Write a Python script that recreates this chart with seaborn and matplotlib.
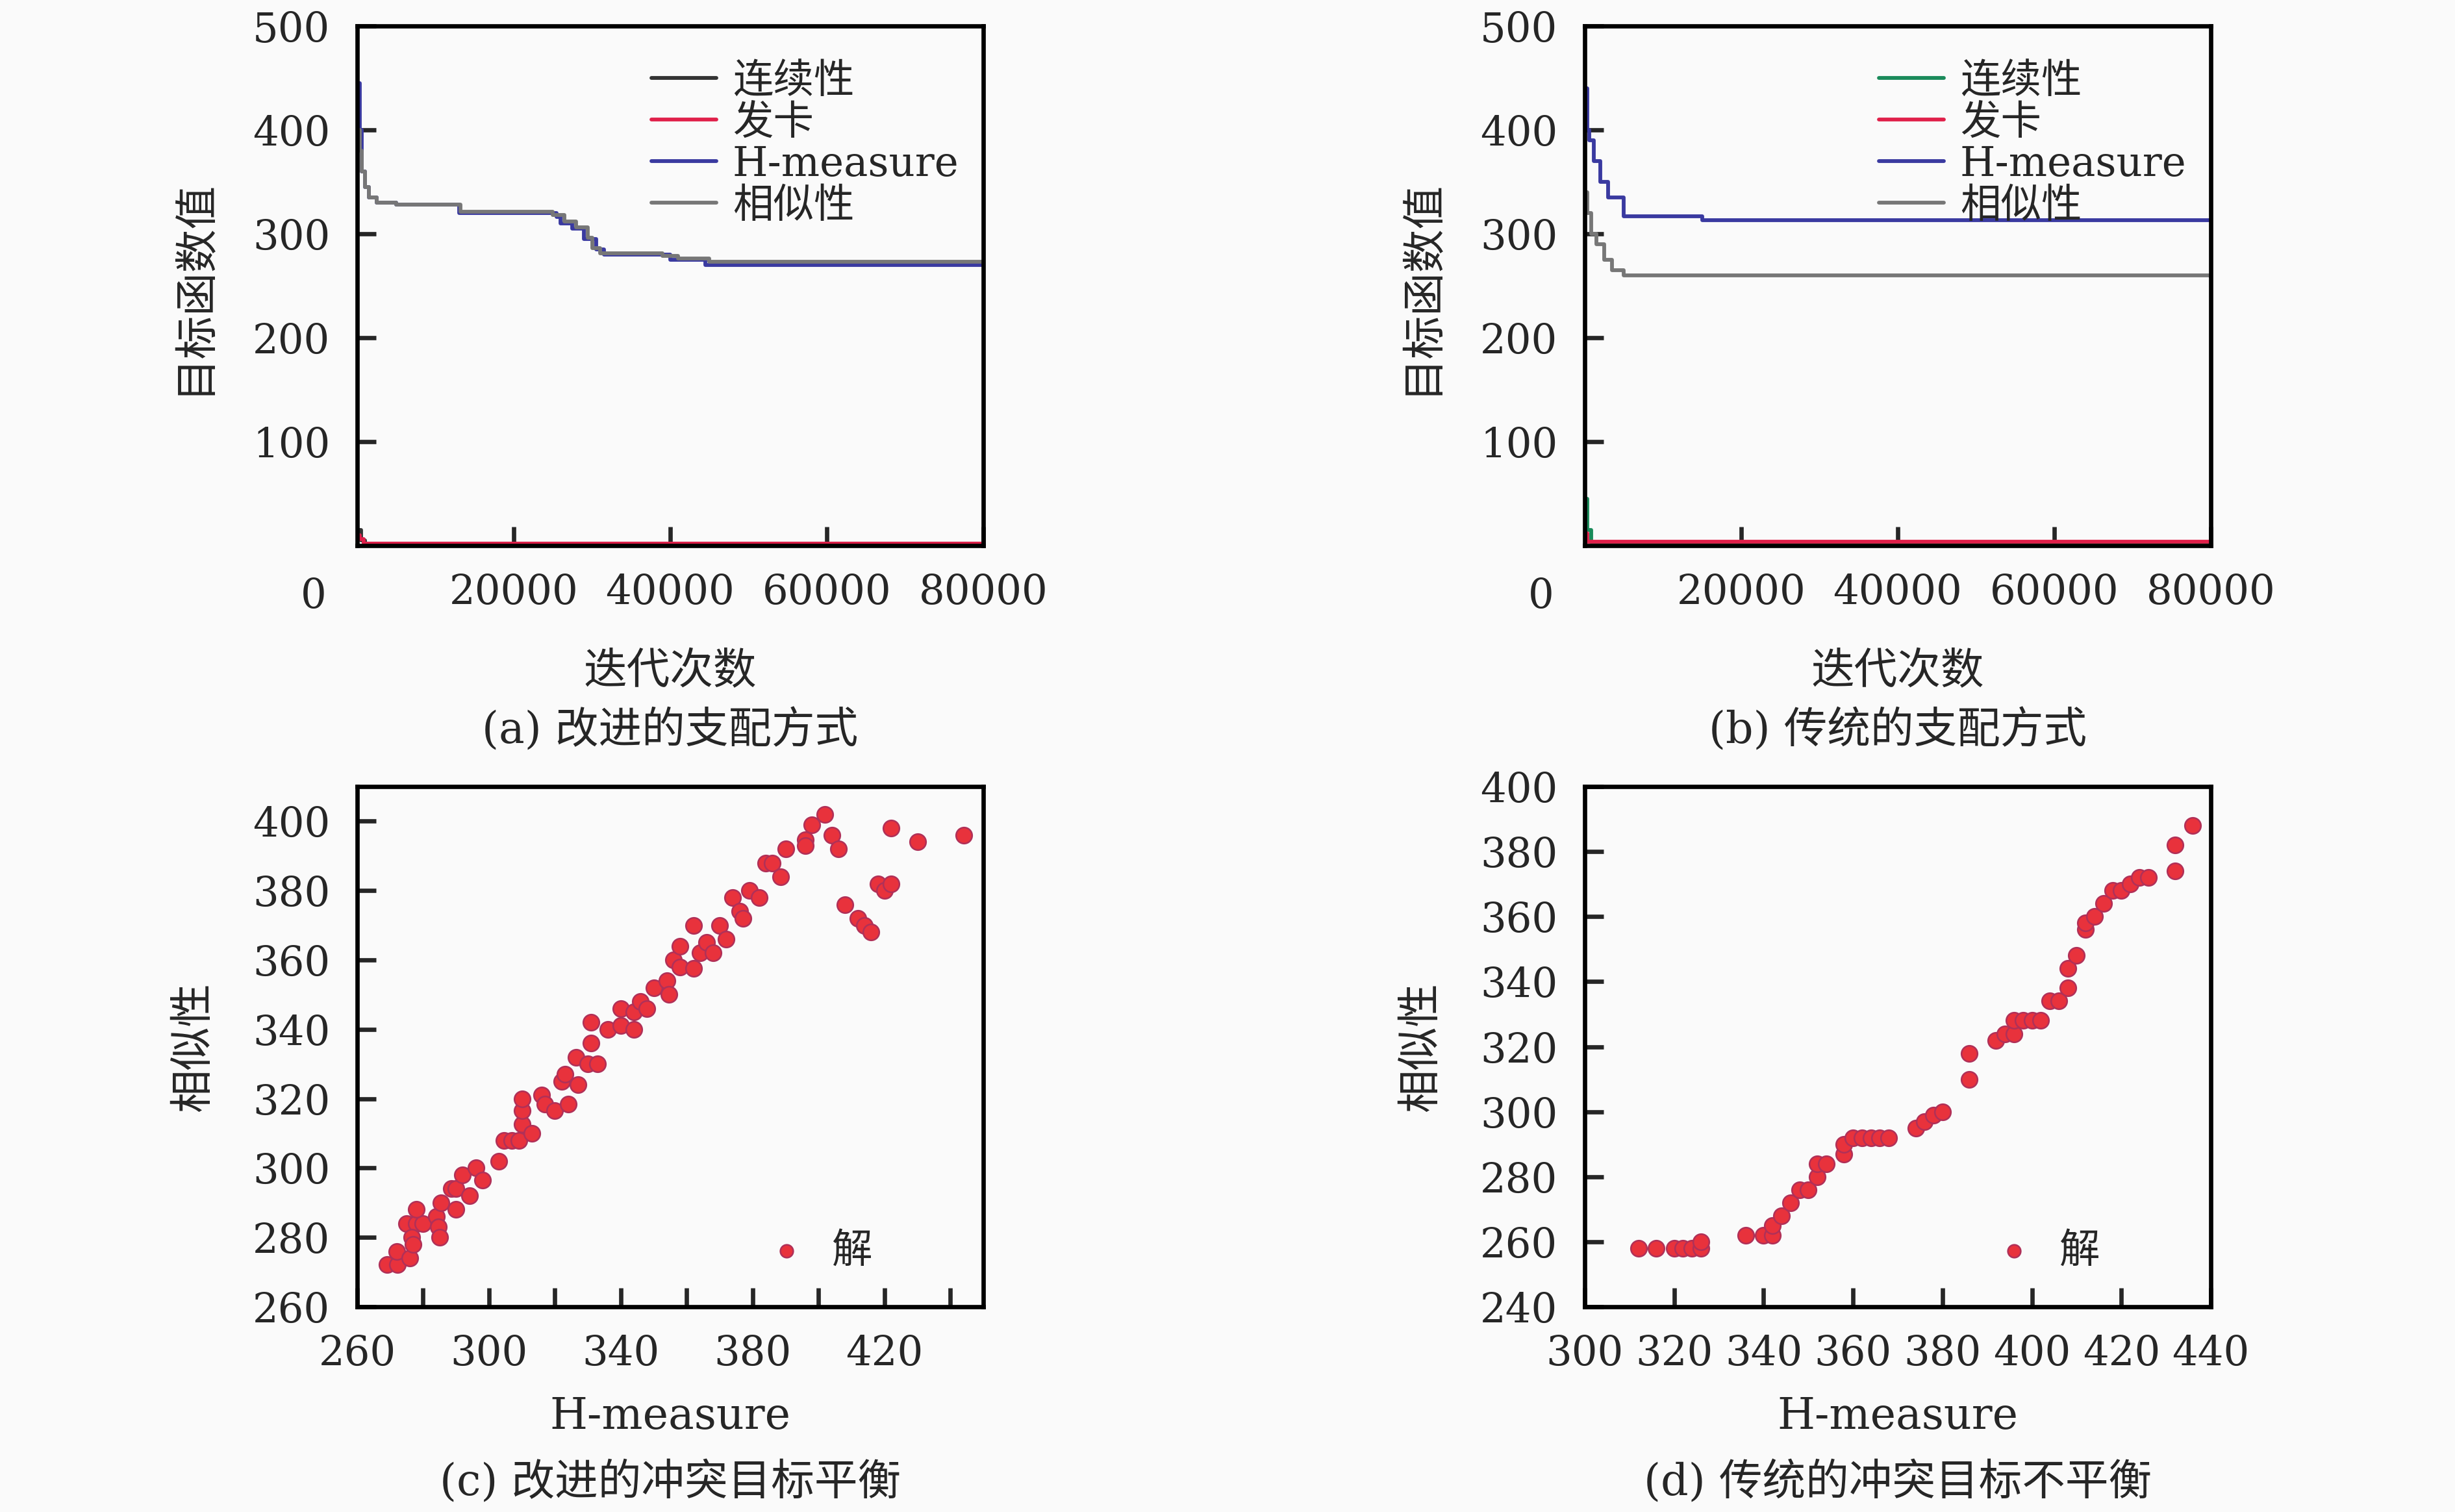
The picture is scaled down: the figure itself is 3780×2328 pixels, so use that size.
import numpy as np
import pandas as pd
import seaborn as sns
import matplotlib.pyplot as plt

# ---- data ----
a_labels = ["连续性", "发卡", "H-measure", "相似性"]
a_colors = ["#333333", "#e0204a", "#3a3aa0", "#777777"]
a_x = {
    "连续性": [0, 500, 1000, 80000],
    "发卡": [0, 300, 800, 80000],
    "H-measure": [0, 300, 600, 1000, 1500, 2500, 5000, 12500, 13000, 24500, 25500, 26000,
                  27500, 29000, 30500, 31500, 38500, 40000, 44500, 80000],
    "相似性": [0, 300, 600, 1000, 1500, 2500, 5000, 12500, 13200, 24000, 25000, 26500,
            28000, 29500, 30000, 31000, 39000, 41000, 45000, 80000],
}
a_y = {
    "连续性": [15, 5, 2, 2],
    "发卡": [10, 6, 2, 2],
    "H-measure": [445, 400, 360, 345, 335, 330, 328, 328, 320, 320, 316, 310,
                  305, 295, 285, 280, 280, 275, 270, 270],
    "相似性": [400, 380, 360, 345, 335, 330, 328, 328, 321, 321, 318, 312,
            306, 296, 286, 281, 279, 276, 273, 273],
}

b_colors = ["#1a8a5a", "#e0204a", "#3a3aa0", "#777777"]
b_x = {
    "连续性": [0, 300, 800, 80000],
    "发卡": [0, 300, 80000],
    "H-measure": [0, 300, 600, 1200, 2000, 3000, 5000, 15000, 80000],
    "相似性": [0, 300, 800, 1500, 2500, 3500, 5000, 80000],
}
b_y = {
    "连续性": [45, 15, 3, 2],
    "发卡": [12, 4, 2],
    "H-measure": [440, 400, 390, 370, 350, 335, 317, 313, 313],
    "相似性": [340, 320, 300, 290, 275, 265, 260, 258],
}

c_h = [269, 272.2, 272, 276, 275, 278, 280, 276.6, 278, 277, 284, 284.7, 285, 285.5, 288.5,
       290, 290, 294, 292, 296, 298, 303, 304.5, 307, 309, 310, 313, 310, 310, 316, 317, 320,
       324, 322, 323, 327, 326.5, 330, 333, 331, 331, 336, 340, 340, 344, 344, 346, 348, 350,
       354, 354.6, 356, 358, 358, 362, 362, 364, 366, 368, 370, 372, 374, 376, 377, 379, 382,
       384, 386, 388.5, 390, 396, 396, 398, 402, 404, 406, 408, 412, 414, 416, 418, 420, 422,
       422, 430, 444]
c_s = [272.2, 272.2, 276, 274, 284, 284, 284, 280, 288, 278, 286, 283, 280, 290, 294,
       294, 288, 292, 298, 300, 296.6, 302, 308, 308, 308, 312.7, 310, 316.6, 320, 321, 318.5, 316.6,
       318.5, 325, 327, 324, 332, 330, 330, 336, 342, 340, 346, 341, 340, 345, 348, 346, 352,
       354, 350, 360, 358, 364, 370, 357.5, 362, 365, 362, 370, 366, 378, 374, 372, 380, 378,
       388, 388, 384, 392, 394.6, 393, 399, 402, 396, 392, 376, 372, 370, 368, 382, 380, 382,
       398, 394, 396]

d_h = [312, 316, 320, 322, 324, 326, 326, 336, 340, 342, 342, 344, 346, 348, 350, 352, 352,
       354, 358, 358, 360, 362, 364, 366, 368, 374, 376, 378, 380, 386, 386, 392, 394, 396,
       396, 398, 400, 402, 404, 406, 408, 408, 410, 412, 412, 414, 416, 418, 420, 422, 424,
       426, 432, 432, 436]
d_s = [258, 258, 258, 258, 258, 258, 260, 262, 262, 262, 265, 268, 272, 276, 276, 280, 284,
       284, 287, 290, 292, 292, 292, 292, 292, 295, 297, 299, 300, 310, 318, 322, 324, 324,
       328, 328, 328, 328, 334, 334, 338, 344, 348, 356, 358, 360, 364, 368, 368, 370, 372,
       372, 374, 382, 388]

# ---- style ----
sns.set_style("ticks")
plt.rcParams["font.family"] = ["DejaVu Serif", "Noto Sans CJK SC"]
plt.rcParams["font.size"] = 15
plt.rcParams["xtick.direction"] = "in"
plt.rcParams["ytick.direction"] = "in"
plt.rcParams["axes.linewidth"] = 1.6
bg = "#fafafa"

fig = plt.figure(figsize=(12.6, 7.763), dpi=300, facecolor=bg)
W, H = 3780, 2329


def make_ax(x0, y_top, x1, y_bot):
    ax = fig.add_axes([x0 / W, 1 - y_bot / H, (x1 - x0) / W, (y_bot - y_top) / H])
    ax.set_facecolor(bg)
    ax.tick_params(length=7, width=1.6, labelsize=15, pad=10)
    for s in ax.spines.values():
        s.set_color("black")
    return ax


def line_panel(ax, xs, ys, colors, caption):
    for lab, col in zip(a_labels, colors):
        df = pd.DataFrame({"x": xs[lab], "y": ys[lab]})
        sns.lineplot(data=df, x="x", y="y", ax=ax, color=col, lw=1.4,
                     drawstyle="steps-post", label=lab)
    ax.set_xlim(0, 80000)
    ax.set_ylim(0, 500)
    ax.set_xticks([20000, 40000, 60000, 80000])
    ax.set_yticks([100, 200, 300, 400, 500])
    ax.text(-0.07, -0.12, "0", transform=ax.transAxes, fontsize=15, ha="center")
    ax.set_xlabel("迭代次数", fontsize=16, labelpad=14)
    ax.set_ylabel("目标函数值", fontsize=16, labelpad=14)
    ax.legend(loc="upper right", frameon=False, fontsize=15, handlelength=1.6,
              labelspacing=0.05, handletextpad=0.4, borderaxespad=0.2,
              bbox_to_anchor=(1.0, 0.98))
    ax.text(0.5, -0.38, caption, transform=ax.transAxes, ha="center", fontsize=16)


ax_a = make_ax(550, 41, 1514, 841)
line_panel(ax_a, a_x, a_y, a_colors, "(a) 改进的支配方式")
ax_b = make_ax(2440, 41, 3404, 841)
line_panel(ax_b, b_x, b_y, b_colors, "(b) 传统的支配方式")


def scatter_panel(ax, h, s, xlim, ylim, xticks, yticks, labeled_x, caption):
    df = pd.DataFrame({"H-measure": h, "相似性": s})
    sns.scatterplot(data=df, x="H-measure", y="相似性", ax=ax, s=35, color="#e8323c",
                    edgecolor="#b03058", linewidth=0.6, label="解")
    ax.set_xlim(*xlim)
    ax.set_ylim(*ylim)
    ax.set_xticks(xticks)
    ax.set_xticklabels([str(t) if t in labeled_x else "" for t in xticks])
    ax.set_yticks(yticks)
    ax.set_xlabel("H-measure", fontsize=16, labelpad=8)
    ax.set_ylabel("相似性", fontsize=16, labelpad=14)
    ax.legend(loc="lower right", frameon=False, fontsize=15, handletextpad=0.1,
              markerscale=0.8, bbox_to_anchor=(0.88, 0.0))
    ax.text(0.5, -0.36, caption, transform=ax.transAxes, ha="center", fontsize=16)


ax_c = make_ax(550, 1212, 1514, 2013)
scatter_panel(ax_c, c_h, c_s, (260, 450), (260, 410), list(range(260, 450, 20)),
              list(range(260, 401, 20)), [260, 300, 340, 380, 420], "(c) 改进的冲突目标平衡")
ax_d = make_ax(2440, 1212, 3404, 2013)
scatter_panel(ax_d, d_h, d_s, (300, 440), (240, 400), list(range(300, 441, 20)),
              list(range(240, 401, 20)), list(range(300, 441, 20)), "(d) 传统的冲突目标不平衡")

fig.savefig("out.png", dpi=300, facecolor=bg)
